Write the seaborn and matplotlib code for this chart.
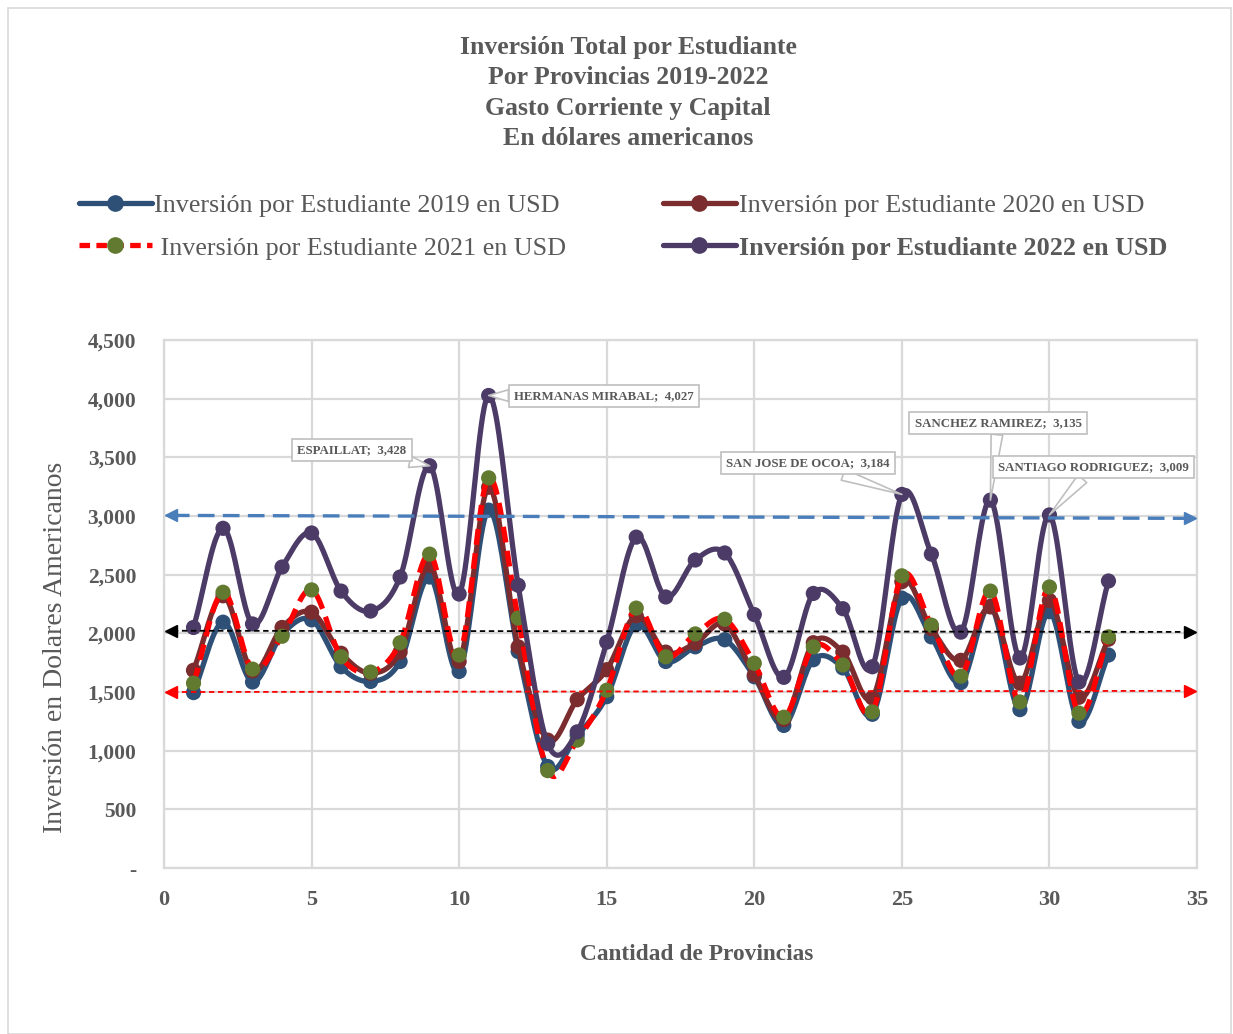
import numpy as np
import pandas as pd
import seaborn as sns
import matplotlib.pyplot as plt
from matplotlib.lines import Line2D
from matplotlib.patches import Rectangle

provincias = list(range(1, 33))
inv_2019 = [1495, 2095, 1585, 1990, 2115, 1715, 1590, 1760, 2480, 1675, 3050, 1845, 865, 1130, 1460, 2075,
            1760, 1885, 1945, 1630, 1215, 1775, 1705, 1310, 2300, 1970, 1580, 2230, 1350, 2185, 1250, 1815]
inv_2020 = [1685, 2320, 1680, 2050, 2180, 1830, 1660, 1840, 2580, 1760, 3245, 1885, 1090, 1435, 1690, 2150,
            1840, 1915, 2080, 1645, 1265, 1920, 1840, 1450, 2440, 2040, 1770, 2225, 1575, 2280, 1455, 1950]
inv_2021 = [1575, 2350, 1695, 1975, 2370, 1800, 1670, 1920, 2675, 1815, 3325, 2130, 830, 1090, 1515, 2215,
            1800, 1995, 2120, 1745, 1285, 1885, 1730, 1330, 2490, 2070, 1635, 2360, 1415, 2395, 1320, 1970]
inv_2022 = [2050, 2895, 2080, 2565, 2855, 2360, 2190, 2480, 3428, 2335, 4027, 2410, 1060, 1160, 1925, 2820,
            2310, 2625, 2685, 2160, 1625, 2340, 2210, 1715, 3184, 2675, 2010, 3135, 1790, 3009, 1585, 2446]

# etiquetas de los picos (provincia, nombre, posicion del cuadro)
etiq_x = [9, 11, 25, 28, 30]
etiq_nombre = ['ESPAILLAT', 'HERMANAS MIRABAL', 'SAN JOSE DE OCOA', 'SANCHEZ RAMIREZ', 'SANTIAGO RODRIGUEZ']
etiq_caja_x = [6.37, 14.91, 21.82, 28.26, 31.48]
etiq_caja_y = [3563, 4023, 3452, 3793, 3418]

# lineas de referencia (inicio, fin)
ref_ini = [3005, 2022, 1500]
ref_fin = [2980, 2012, 1510]
ref_color = ['#4A7EBB', '#000000', '#FF0000']
ref_lw = [2.4, 1.3, 1.3]
ref_dash = [(5, 2.5), (3, 2), (3, 2)]

gris = '#595959'


def suavizar(x, y, n=20):
    # curva tipo Excel (Catmull-Rom)
    x = np.asarray(x, float)
    y = np.asarray(y, float)
    m = np.empty_like(y)
    m[1:-1] = (y[2:] - y[:-2]) / 2
    m[0] = y[1] - y[0]
    m[-1] = y[-1] - y[-2]
    xs, ys = [], []
    for i in range(len(x) - 1):
        t = np.linspace(0, 1, n, endpoint=False)
        h00 = 2 * t**3 - 3 * t**2 + 1
        h10 = t**3 - 2 * t**2 + t
        h01 = -2 * t**3 + 3 * t**2
        h11 = t**3 - t**2
        ys.append(h00 * y[i] + h10 * m[i] + h01 * y[i + 1] + h11 * m[i + 1])
        xs.append(x[i] + t * (x[i + 1] - x[i]))
    xs.append([x[-1]])
    ys.append([y[-1]])
    return np.concatenate(xs), np.concatenate(ys)


sns.set_style('white')
plt.rcParams['font.family'] = ['Liberation Serif', 'DejaVu Serif']

fig = plt.figure(figsize=(12.33, 10.34), dpi=100)
ax = fig.add_axes([164 / 1233, 1 - 868 / 1034, (1197 - 164) / 1233, (868 - 340) / 1034])

series = [
    (inv_2019, '#2E5077', '-', '#2E5077', 2),
    (inv_2020, '#7A2C2E', '-', '#7A2C2E', 3),
    (inv_2021, '#FF0000', '--', '#627A30', 4),
    (inv_2022, '#4B3B66', '-', '#4B3B66', 5),
]
for vals, col, ls, mcol, z in series:
    sx, sy = suavizar(provincias, vals)
    sns.lineplot(x=sx, y=sy, ax=ax, color=col, lw=3.8, linestyle=ls, zorder=z, sort=False)
    if ls == '--':
        ax.lines[-1].set_dashes((3, 1.6))
    sns.scatterplot(x=provincias, y=vals, ax=ax, color=mcol, s=120, edgecolor='none', zorder=z + 0.5)

for y0, y1, c, lw, d in zip(ref_ini, ref_fin, ref_color, ref_lw, ref_dash):
    ax.plot([0.3, 34.7], [y0, y1], color=c, lw=lw, dashes=d, zorder=6)
    ax.plot([0.25], [y0], marker='<', color=c, ms=9 if lw > 2 else 8, zorder=6)
    ax.plot([34.75], [y1], marker='>', color=c, ms=9 if lw > 2 else 8, zorder=6)

for px, nom, bx, by in zip(etiq_x, etiq_nombre, etiq_caja_x, etiq_caja_y):
    val = inv_2022[provincias.index(px)]
    ax.annotate(f'{nom};  {val:,}', xy=(px, val), xytext=(bx, by), ha='center', va='center',
                fontsize=9.3, fontweight='bold', color=gris, zorder=8,
                bbox=dict(boxstyle='square,pad=0.4', fc='white', ec='#BFBFBF', lw=1.2),
                arrowprops=dict(arrowstyle='wedge,tail_width=0.9,shrink_factor=0.5', fc='white',
                                ec='#BFBFBF', lw=1.2, shrinkA=0, shrinkB=0))

ax.set_xlim(0, 35)
ax.set_ylim(0, 4500)
ax.set_xticks(range(0, 36, 5))
ax.set_yticks(range(0, 4501, 500))
ax.set_yticklabels(['-'] + [f'{v:,}' for v in range(500, 4501, 500)])
ax.grid(True, color='#D9D9D9', lw=1.6)
ax.set_axisbelow(True)
for s in ax.spines.values():
    s.set_color('#D9D9D9')
    s.set_linewidth(1.6)
ax.tick_params(axis='y', labelsize=15.5, labelcolor=gris, length=0, pad=20)
ax.tick_params(axis='x', labelsize=16, labelcolor=gris, length=0, pad=16)
for t in ax.get_xticklabels() + ax.get_yticklabels():
    t.set_fontweight('bold')
ax.set_xlabel('Cantidad de Provincias', fontsize=16.8, fontweight='bold', color=gris)
ax.xaxis.set_label_coords(0.516, -0.143)
ax.set_ylabel('Inversión en Dolares Americanos', fontsize=20, color=gris, va='center')
ax.yaxis.set_label_coords(-0.105, 0.417)

fig.text(628 / 1233, 1 - 93 / 1034,
         'Inversión Total por Estudiante\nPor Provincias 2019-2022\nGasto Corriente y Capital\nEn dólares americanos',
         ha='center', va='center', fontsize=18.5, fontweight='bold', color=gris, linespacing=1.4)

handles = [
    Line2D([], [], color='#2E5077', lw=3.8, marker='o', ms=11),
    Line2D([], [], color='#FF0000', lw=3.8, ls=(0, (2, 1.2)), marker='o', ms=11, mfc='#627A30', mec='#627A30'),
    Line2D([], [], color='#7A2C2E', lw=3.8, marker='o', ms=11),
    Line2D([], [], color='#4B3B66', lw=3.8, marker='o', ms=11),
]
labels = ['Inversión por Estudiante 2019 en USD', ' Inversión por Estudiante 2021 en USD',
          'Inversión por Estudiante 2020 en USD', 'Inversión por Estudiante 2022 en USD']
leg = fig.legend(handles, labels, ncol=2, loc='upper left', bbox_to_anchor=(55 / 1233, 1 - 170 / 1034),
                 frameon=False, fontsize=18.8, handlelength=2.8, handletextpad=0.1, columnspacing=3.7,
                 labelspacing=0.75, labelcolor=gris)
leg.get_texts()[3].set_fontweight('bold')

fig.add_artist(Rectangle((8 / 1233, 0), 1 - 10 / 1233, 1 - 8 / 1034, transform=fig.transFigure,
                         fill=False, ec='#D9D9D9', lw=1.2))

fig.savefig('out.png', dpi=100)
